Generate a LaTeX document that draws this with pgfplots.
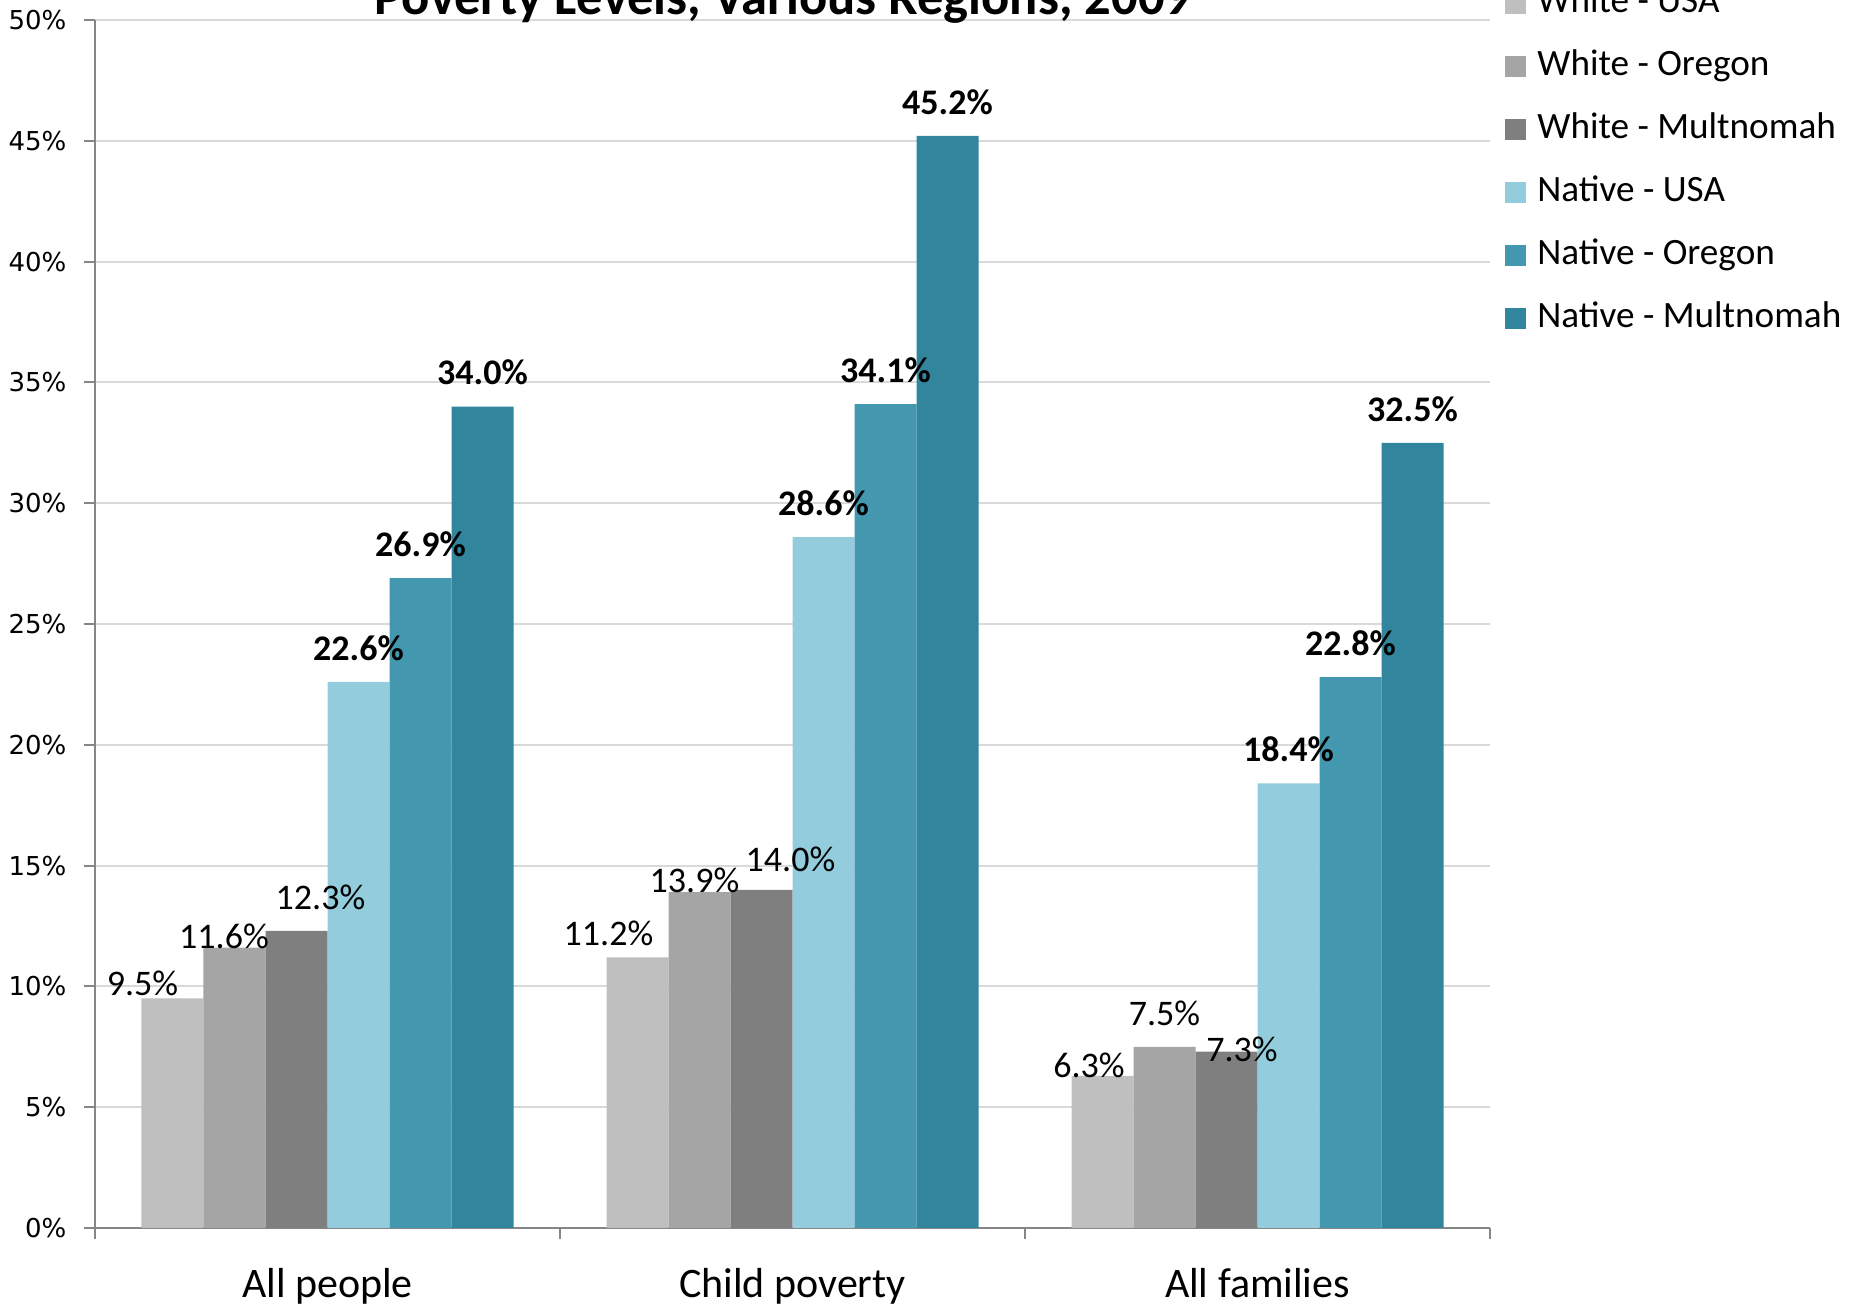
\documentclass[border=0pt]{standalone}
\usepackage{pgfplots}
\pgfplotsset{compat=1.18}
\usepackage{pgfplotstable}
\usepackage{fontspec}
\setmainfont{Carlito}
\newfontfamily\dejavu{DejaVu Sans}
\definecolor{cwusa}{HTML}{BFBFBF}
\definecolor{cwor}{HTML}{A5A5A5}
\definecolor{cwmu}{HTML}{7F7F7F}
\definecolor{cnusa}{HTML}{93CDDD}
\definecolor{cnor}{HTML}{4398B0}
\definecolor{cnmu}{HTML}{31859C}
\definecolor{axisgray}{HTML}{868686}
\definecolor{gridgray}{HTML}{D9D9D9}

% x: category index, y: percent, dx/dy: label offset (pt)
\pgfplotstableread{
x y dx dy
0 9.5 -15 7.5
1 11.2 -14.5 12
2 6.3 -6.75 5.25
}\wusa
\pgfplotstableread{
x y dx dy
0 11.6 -5.25 5.75
1 13.9 -2.5 6
2 7.5 0 16.5
}\wor
\pgfplotstableread{
x y dx dy
0 12.3 12 16.75
1 14.0 14.5 15
2 7.3 7.75 1
}\wmu
\pgfplotstableread{
x y dx dy
0 22.6 0 17
1 28.6 0 17
2 18.4 0 17
}\nusa
\pgfplotstableread{
x y dx dy
0 26.9 0 17
1 34.1 0 17
2 22.8 0 17
}\nor
\pgfplotstableread{
x y dx dy
0 34.0 0 17
1 45.2 0 17
2 32.5 0 17
}\nmu

\begin{document}
\begin{tikzpicture}
\begin{axis}[
  at={(0pt,0pt)}, anchor=south west, scale only axis,
  width=697.5pt, height=604pt,
  xmin=-0.5, xmax=2.5, ymin=0, ymax=50,
  ybar=0pt, bar width=31pt,
  axis x line*=bottom, axis y line*=left,
  axis line style={draw=axisgray, line width=1pt},
  ytick={0,5,...,50},
  ymajorgrids, grid style={draw=gridgray, line width=1pt},
  xtick={-0.5,0.5,1.5,2.5},
  x tick label as interval,
  xticklabels={All people, Child poverty, All families},
  tick align=outside, major tick length=5.5pt,
  tick style={draw=axisgray, line width=1pt},
  /pgf/number format/assume math mode=true,
  yticklabel={\pgfmathprintnumber{\tick}\%},
  yticklabel style={font=\dejavu\fontsize{13}{15}\selectfont, text=black, xshift=-5.3pt},
  xticklabel style={font=\fontsize{21}{24}\selectfont, text=black, yshift=-11.3pt},
  visualization depends on={\thisrow{dx} \as \lblx},
  visualization depends on={\thisrow{dy} \as \lbly},
  nodes near coords={\pgfmathprintnumber[fixed,fixed zerofill,precision=1]{\pgfplotspointmeta}\%},
  nodes near coords style={anchor=center, xshift={\lblx*1pt}, yshift={\lbly*1pt}, font=\fontsize{18}{21}\selectfont, text=black},
  legend image code/.code={\fill[#1] (0pt,-5.25pt) rectangle (10.5pt,5.25pt);},
  legend style={draw=none, fill=none, at={(1,1)}, anchor=north west, xshift=4.5pt, yshift=19pt,
    font=\fontsize{18.6}{21}\selectfont, row sep=14.5pt,
    nodes={inner sep=0pt, text height=13pt, text depth=4pt},
    /tikz/every odd column/.style={column sep=5.5pt}},
  legend cell align=left,
  clip=false,
]
\addplot[fill=cwusa, draw=none] table[x=x, y=y] {\wusa};
\addplot[fill=cwor, draw=none] table[x=x, y=y] {\wor};
\addplot[fill=cwmu, draw=none] table[x=x, y=y] {\wmu};
\addplot[fill=cnusa, draw=none, nodes near coords style={font=\bfseries\fontsize{18}{21}\selectfont}] table[x=x, y=y] {\nusa};
\addplot[fill=cnor, draw=none, nodes near coords style={font=\bfseries\fontsize{18}{21}\selectfont}] table[x=x, y=y] {\nor};
\addplot[fill=cnmu, draw=none, nodes near coords style={font=\bfseries\fontsize{18}{21}\selectfont}] table[x=x, y=y] {\nmu};
\legend{White - USA, White - Oregon, White - Multnomah, Native - USA, Native - Oregon, Native - Multnomah}
\node[anchor=base, font=\bfseries\fontsize{26.3}{30}\selectfont] at ([xshift=-4.75pt, yshift=2.5pt]rel axis cs:0.5,1) {Poverty Levels, Various Regions, 2009};
\end{axis}
\pgfresetboundingbox
\path[use as bounding box] (-47.5pt,-39pt) rectangle (882pt,614pt);
\end{tikzpicture}
\end{document}
